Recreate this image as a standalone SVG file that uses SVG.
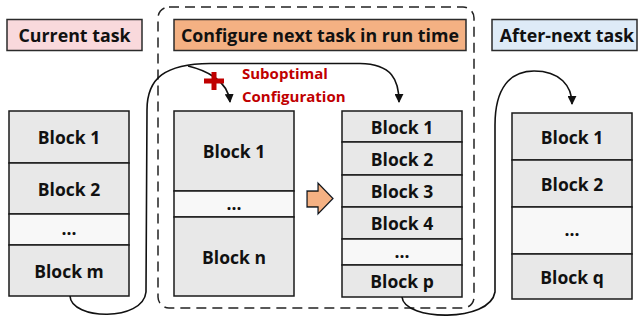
<svg xmlns="http://www.w3.org/2000/svg" width="639" height="320" viewBox="0 0 639 320">
<defs>
<style>
.hdr{stroke:#2b2b2b;stroke-width:1.5}
.blk{fill:#e8e8e8;stroke:#1a1a1a;stroke-width:1.5}
.dots{fill:#f8f8f8;stroke:#1a1a1a;stroke-width:1.5}
.ht{font-family:"Open Sans","Liberation Sans",sans-serif;font-weight:bold;font-size:17.8px;fill:#111;text-anchor:middle;dominant-baseline:central}
.bt{font-family:"Open Sans","Liberation Sans",sans-serif;font-weight:bold;font-size:17.5px;fill:#111;text-anchor:middle;dominant-baseline:central}
.rt{font-family:"Open Sans","Liberation Sans",sans-serif;font-weight:bold;font-size:15px;fill:#c00000}
.con{fill:none;stroke:#111;stroke-width:1.6}
</style>
<marker id="ah" viewBox="0 0 10 10" refX="9" refY="5" markerWidth="9" markerHeight="9" orient="auto" markerUnits="userSpaceOnUse">
<path d="M0,0 L10,5 L0,10 z" fill="#111"/>
</marker>
<filter id="sh" x="-30%" y="-30%" width="160%" height="160%">
<feGaussianBlur in="SourceAlpha" stdDeviation="1.5"/>
<feOffset dx="1" dy="2"/>
<feFlood flood-color="#9db7d6" flood-opacity="0.6"/>
<feComposite operator="in" in2="SourceAlpha"/>
<feMerge><feMergeNode/><feMergeNode in="SourceGraphic"/></feMerge>
</filter>
</defs>

<g id="runtime-frame">
<rect x="158" y="7" width="316" height="301" rx="11" fill="none" stroke="#222" stroke-width="1.5" stroke-dasharray="10,6"/>
</g>

<g id="hdr-current">
<rect class="hdr" x="7" y="19.5" width="135" height="31" fill="#f9d9dc"/>
<text class="ht" x="74.5" y="35">Current task</text>
</g>
<g id="hdr-configure">
<rect class="hdr" x="174" y="19.5" width="292" height="31" fill="#f4b183"/>
<text class="ht" x="320" y="35">Configure next task in run time</text>
</g>
<g id="hdr-afternext">
<rect class="hdr" x="492" y="19.5" width="145" height="31" fill="#deebf7"/>
<text class="ht" x="567" y="35">After-next task</text>
</g>

<g id="stack-current">
<rect class="blk" x="9" y="111" width="120" height="52"/>
<text class="bt" x="69" y="137">Block 1</text>
<rect class="blk" x="9" y="163" width="120" height="51"/>
<text class="bt" x="69" y="188.5">Block 2</text>
<rect class="dots" x="9" y="214" width="120" height="31"/>
<text class="bt" x="69" y="228">...</text>
<rect class="blk" x="9" y="245" width="120" height="51"/>
<text class="bt" x="69" y="270.5">Block m</text>
</g>

<g id="stack-next-subopt">
<rect class="blk" x="174" y="111" width="120" height="80"/>
<text class="bt" x="234" y="151">Block 1</text>
<rect class="dots" x="174" y="191" width="120" height="26"/>
<text class="bt" x="234" y="202.5">...</text>
<rect class="blk" x="174" y="217" width="120" height="79"/>
<text class="bt" x="234" y="256.5">Block n</text>
</g>

<g id="stack-next-config">
<rect class="blk" x="342" y="111" width="120" height="31"/>
<text class="bt" x="402" y="126.5">Block 1</text>
<rect class="blk" x="342" y="142" width="120" height="33"/>
<text class="bt" x="402" y="158.5">Block 2</text>
<rect class="blk" x="342" y="175" width="120" height="32"/>
<text class="bt" x="402" y="191">Block 3</text>
<rect class="blk" x="342" y="207" width="120" height="32"/>
<text class="bt" x="402" y="223">Block 4</text>
<rect class="dots" x="342" y="239" width="120" height="26"/>
<text class="bt" x="402" y="251">...</text>
<rect class="blk" x="342" y="265" width="120" height="32"/>
<text class="bt" x="402" y="281">Block p</text>
</g>

<g id="stack-afternext">
<rect class="blk" x="512" y="113" width="120" height="47"/>
<text class="bt" x="572" y="136.5">Block 1</text>
<rect class="blk" x="512" y="160" width="120" height="47"/>
<text class="bt" x="572" y="183.5">Block 2</text>
<rect class="dots" x="512" y="207" width="120" height="47"/>
<text class="bt" x="572" y="229">...</text>
<rect class="blk" x="512" y="254" width="120" height="45"/>
<text class="bt" x="572" y="276.5">Block q</text>
</g>

<g id="transform-arrow">
<path d="M307,191 L318,191 L318,183 L333,198.5 L318,214 L318,207 L307,207 Z" fill="#f4b183" stroke="#111" stroke-width="1.3" stroke-linejoin="miter" filter="url(#sh)"/>
</g>

<g id="connectors">
<path class="con" d="M70,296 C71,320 143,322 146,292 L147,110 C147,78 165,64 210,63.5 L360,63.5 C392,64 399,80 399,102" marker-end="url(#ah)"/>
<path class="con" d="M188,66 C205,70 228,80 230,102" marker-end="url(#ah)"/>
<path class="con" d="M402,297 C404,321 490,323 495,292 L495,125 C495,88 510,71 534,71 C560,71 572,86 572,104" marker-end="url(#ah)"/>
</g>

<g id="suboptimal-label">
<path d="M214,72 L214,90 M204,81 L224,81" stroke="#c00000" stroke-width="5" fill="none"/>
<text class="rt" x="242" y="79">Suboptimal</text>
<text class="rt" x="242" y="102">Configuration</text>
</g>
</svg>
